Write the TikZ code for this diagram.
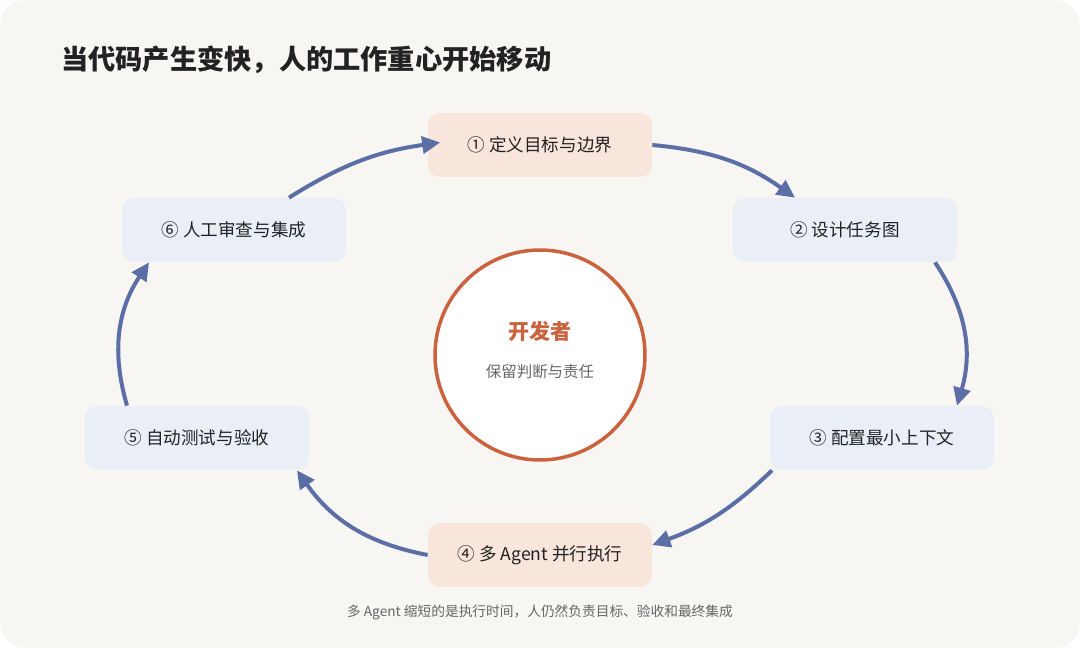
\documentclass[tikz,border=0pt]{standalone}
\usepackage{fontspec}
\setmainfont{Noto Sans CJK SC}
\usetikzlibrary{positioning, arrows.meta}
\definecolor{bgpaper}{HTML}{F8F6F3}
\definecolor{peach}{HTML}{F8E5DB}
\definecolor{paleblue}{HTML}{E9EEF7}
\definecolor{flowblue}{HTML}{5B6EA6}
\definecolor{rust}{HTML}{C9623D}
\definecolor{ink}{HTML}{222222}
\tikzset{
    stage/.style={rectangle, rounded corners=0.24cm, minimum width=4.48cm, minimum height=1.28cm, font=\fontsize{10}{12}\selectfont, text=ink, align=center},
    human/.style={stage, fill=peach},
    agent/.style={stage, fill=paleblue},
    flow/.style={-{Triangle[length=0.36cm, width=0.34cm]}, line width=0.08cm, draw=flowblue}
}
\begin{document}
\begin{tikzpicture}[x=0.02cm, y=-0.02cm]
    % Background
    \useasboundingbox (0,0) rectangle (1080,648);
    \fill[bgpaper, rounded corners=0.5cm] (0,0) rectangle (1080,648);

    % Title
    \node[anchor=west, font=\fontsize{15.5}{18}\selectfont\bfseries, text=ink] (title) at (55,60) {当代码产生变快，人的工作重心开始移动};

    % Stages
    \node[human] (S1) at (540,145) {① 定义目标与边界};
    \node[agent] (S2) at (845,230) {② 设计任务图};
    \node[agent] (S3) at (882,438) {③ 配置最小上下文};
    \node[human] (S4) at (540,555) {④ 多 Agent 并行执行};
    \node[agent] (S5) at (197,438) {⑤ 自动测试与验收};
    \node[agent] (S6) at (234,230) {⑥ 人工审查与集成};

    % Developer
    \node[circle, draw=rust, line width=0.07cm, fill=white, minimum size=4.2cm] (dev) at (540,355) {};
    \node[font=\fontsize{12}{14}\selectfont\bfseries, text=rust] (devname) at (540,331) {开发者};
    \node[font=\fontsize{8.8}{10}\selectfont, text=black!60, below=0.22cm of devname] (devrole) {保留判断与责任};

    % Cycle
    \draw[flow] (S1.east) to[bend left=15] ([xshift=-1cm]S2.north);
    \draw[flow] ([xshift=1.8cm]S2.south) to[bend left=25] ([xshift=1.5cm]S3.north);
    \draw[flow] ([xshift=-2.2cm]S3.south) to[bend left=12] ([yshift=0.2cm]S4.east);
    \draw[flow] (S4.west) to[bend left=22] ([xshift=2cm]S5.south);
    \draw[flow] ([xshift=-1.4cm]S5.north) to[bend left=25] ([xshift=-1.7cm]S6.south);
    \draw[flow] ([xshift=1.1cm]S6.north) to[bend left=12] ([xshift=0.25cm,yshift=0.05cm]S1.west);

    % Footer
    \node[font=\fontsize{7.8}{9}\selectfont, text=black!60] (note) at (540,612) {多 Agent 缩短的是执行时间，人仍然负责目标、验收和最终集成};
\end{tikzpicture}
\end{document}
